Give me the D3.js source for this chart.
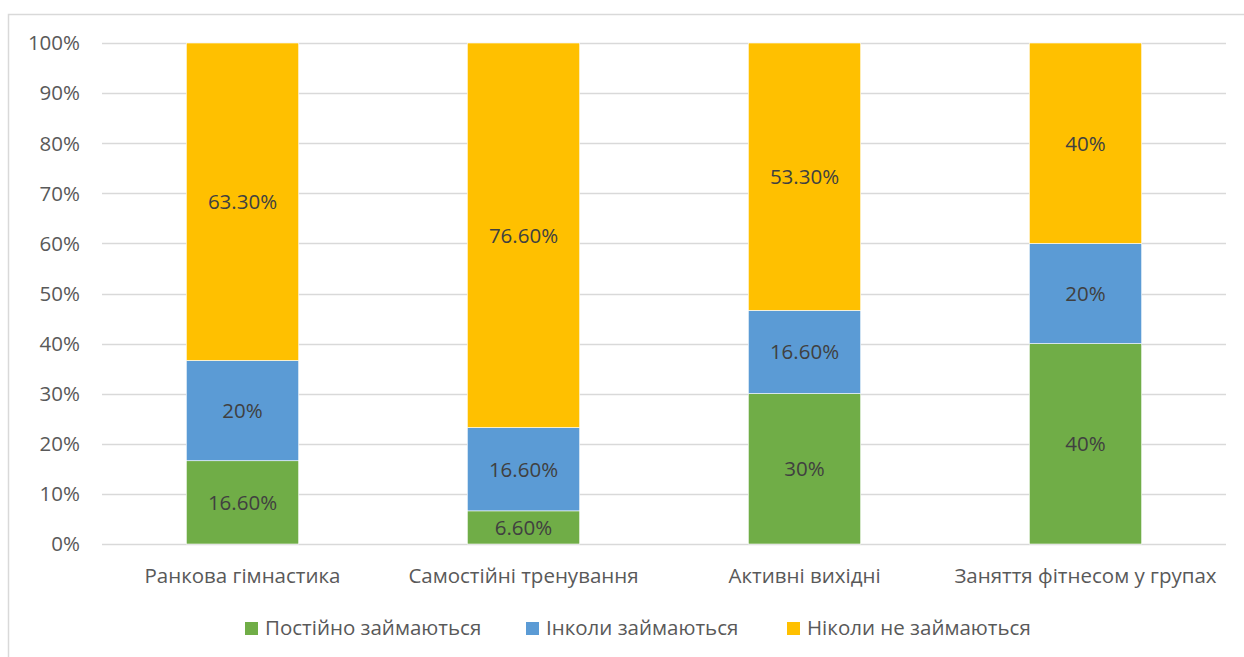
<!DOCTYPE html>
<html>
<head>
<meta charset="utf-8">
<script src="https://cdn.jsdelivr.net/npm/d3@7"></script>
<style>
  html, body { margin: 0; padding: 0; background: #fff; }
  svg { display: block; font-family: "Open Sans", "Noto Sans", sans-serif; }
</style>
</head>
<body>
<svg id="chart" width="1244" height="657"></svg>
<script>
// Activity categories and the share of respondents in each group (%)
const categories = ["Ранкова гімнастика", "Самостійні тренування", "Активні вихідні", "Заняття фітнесом у групах"];
const seriesNames = ["Постійно займаються", "Інколи займаються", "Ніколи не займаються"];
const regular   = [16.6, 6.6, 30, 40];
const sometimes = [20, 16.6, 16.6, 20];
const never     = [63.3, 76.6, 53.3, 40];
const valueLabels = [
  ["16.60%", "6.60%", "30%", "40%"],
  ["20%", "16.60%", "16.60%", "20%"],
  ["63.30%", "76.60%", "53.30%", "40%"]
];
const yTicks = [0, 10, 20, 30, 40, 50, 60, 70, 80, 90, 100];
const colors = ["#70ad47", "#5b9bd5", "#ffc000"];

const FS = 20.5;
const svg = d3.select("#chart");
const W = 1244, H = 657;

// chart frame
svg.append("rect")
  .attr("x", 8.5).attr("y", 14.5)
  .attr("width", W + 20).attr("height", H + 20)
  .attr("fill", "#fff").attr("stroke", "#d9d9d9").attr("stroke-width", 1.5);

const plot = { left: 102, right: 1226, top: 43, bottom: 544 };

const x = d3.scaleBand().domain(categories)
  .range([plot.left, plot.right]).paddingInner(0.6).paddingOuter(0.3);
const y = d3.scaleLinear().domain([0, 100]).range([plot.bottom, plot.top]);

// gridlines
svg.append("g").selectAll("line").data(yTicks).join("line")
  .attr("x1", plot.left).attr("x2", plot.right)
  .attr("y1", d => Math.round(y(d)) + 0.5).attr("y2", d => Math.round(y(d)) + 0.5)
  .attr("stroke", "#d9d9d9").attr("stroke-width", 1.3);

// y-axis tick labels
svg.append("g").selectAll("text").data(yTicks).join("text")
  .attr("x", 80).attr("y", d => y(d))
  .attr("dy", "0.36em")
  .attr("text-anchor", "end")
  .attr("fill", "#595959").attr("font-size", FS)
  .text(d => d + "%");

// stack rows, normalised to 100% per category
const rows = categories.map((c, i) => ({ cat: c, s0: regular[i], s1: sometimes[i], s2: never[i], idx: i }));
const keys = ["s0", "s1", "s2"];
const stacked = d3.stack().keys(keys).offset(d3.stackOffsetExpand)(rows);

const layers = svg.append("g").selectAll("g").data(stacked).join("g")
  .attr("fill", (d, i) => colors[i]);

layers.selectAll("rect").data(d => d).join("rect")
  .attr("x", d => x(d.data.cat))
  .attr("width", x.bandwidth())
  .attr("y", d => y(d[1] * 100))
  .attr("height", d => y(d[0] * 100) - y(d[1] * 100))
  .attr("stroke", "#ffffff").attr("stroke-width", 0.6);

// value labels centred in segments
stacked.forEach((layer, li) => {
  svg.append("g").selectAll("text").data(layer).join("text")
    .attr("x", d => x(d.data.cat) + x.bandwidth() / 2)
    .attr("y", d => y((d[0] + d[1]) / 2 * 100))
    .attr("dy", "0.36em")
    .attr("text-anchor", "middle")
    .attr("fill", "#404040").attr("font-size", FS)
    .text(d => valueLabels[li][d.data.idx]);
});

// category labels
svg.append("g").selectAll("text").data(categories).join("text")
  .attr("x", d => x(d) + x.bandwidth() / 2)
  .attr("y", 576)
  .attr("dy", "0.36em")
  .attr("text-anchor", "middle")
  .attr("fill", "#595959").attr("font-size", FS)
  .text(d => d);

// legend
const legendX = [245, 526, 787];
const legend = svg.append("g").selectAll("g").data(seriesNames).join("g")
  .attr("transform", (d, i) => `translate(${legendX[i]},628)`);
legend.append("rect")
  .attr("x", 0).attr("y", -6).attr("width", 13).attr("height", 13)
  .attr("fill", (d, i) => colors[i]);
legend.append("text")
  .attr("x", 20).attr("y", 0).attr("dy", "0.36em")
  .attr("fill", "#595959").attr("font-size", FS)
  .text(d => d);
</script>
</body>
</html>
